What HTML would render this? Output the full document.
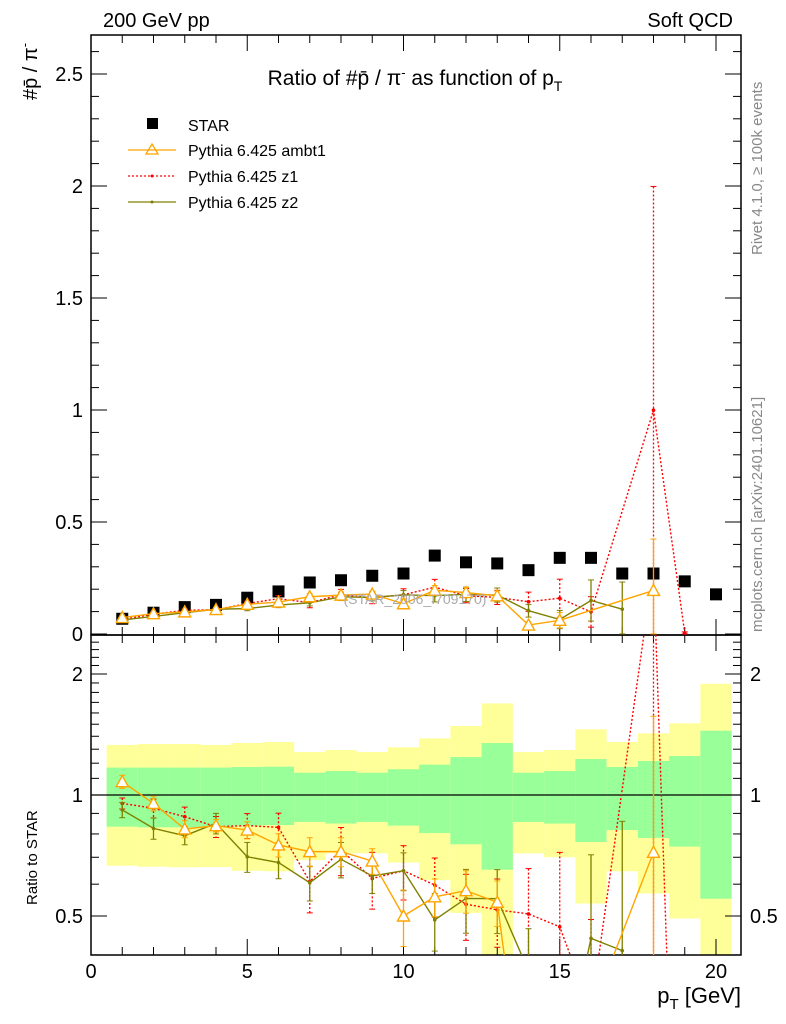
<!DOCTYPE html>
<html><head><meta charset="utf-8"><style>
html,body{margin:0;padding:0;background:#fff;width:786px;height:1024px;overflow:hidden;}
svg{display:block;font-family:"Liberation Sans",sans-serif;}
</style></head><body>
<svg id="chart" width="786" height="1024" xmlns="http://www.w3.org/2000/svg">
<g id="bands"></g>
<g id="axes"></g>
<g id="series"></g>
<text x="103" y="27" font-size="20">200 GeV pp</text>
<text x="733" y="27" font-size="20" text-anchor="end">Soft QCD</text>
<text x="415" y="85" font-size="21" text-anchor="middle">Ratio of #p̄ / π<tspan dy="-8" font-size="13">-</tspan><tspan dy="8"> as function of p</tspan><tspan dy="6" font-size="14">T</tspan></text>
<text x="415" y="604" font-size="14" fill="#aaa" text-anchor="middle">(STAR_2006_I709170)</text>
<text transform="translate(37,100) rotate(-90)" font-size="20">#p̄ / π<tspan dy="-8" font-size="13">-</tspan></text>
<text transform="translate(37,905) rotate(-90)" font-size="15">Ratio to STAR</text>
<text x="741" y="1003" font-size="22" text-anchor="end">p<tspan dy="6" font-size="15">T</tspan><tspan dy="-6"> [GeV]</tspan></text>
<text transform="translate(762,255) rotate(-90)" font-size="15" fill="#888">Rivet 4.1.0, ≥ 100k events</text>
<text transform="translate(762,632) rotate(-90)" font-size="15" fill="#888">mcplots.cern.ch [arXiv:2401.10621]</text>
<g>
<rect x="147" y="118" width="11" height="11" fill="#000"/>
<text x="188" y="131" font-size="16">STAR</text>
<line x1="128" y1="150" x2="176" y2="150" stroke="#ffa500" stroke-width="1.3"/>
<path d="M152,144 L158,154 L146,154 Z" fill="none" stroke="#ffa500" stroke-width="1.3"/>
<text x="188" y="156" font-size="16">Pythia 6.425 ambt1</text>
<line x1="128" y1="176" x2="176" y2="176" stroke="#ff0000" stroke-width="1.3" stroke-dasharray="2,2"/>
<circle cx="152" cy="176" r="1.5" fill="#ff0000"/>
<text x="188" y="182" font-size="16">Pythia 6.425 z1</text>
<line x1="128" y1="202" x2="176" y2="202" stroke="#808000" stroke-width="1.3"/>
<circle cx="152" cy="202" r="1.5" fill="#808000"/>
<text x="188" y="208" font-size="16">Pythia 6.425 z2</text>
</g>
</svg>
<script>
const pT=[1,2,3,4,5,6,7,8,9,10,11,12,13,14,15,16,17,18,19,20];
const starVals=[0.068,0.095,0.12,0.13,0.162,0.19,0.23,0.24,0.26,0.27,0.35,0.32,0.315,0.285,0.34,0.34,0.27,0.27,0.235,0.177];
const bandYellowUp=[1.332,1.339,1.339,1.332,1.347,1.355,1.279,1.294,1.279,1.314,1.383,1.485,1.69,1.279,1.294,1.457,1.355,1.424,1.508,1.891];
const bandGreenUp=[1.17,1.17,1.17,1.17,1.174,1.176,1.136,1.147,1.136,1.159,1.19,1.243,1.347,1.136,1.147,1.229,1.174,1.215,1.25,1.445];
const bandGreenDn=[0.834,0.831,0.831,0.831,0.839,0.842,0.857,0.849,0.857,0.839,0.804,0.754,0.652,0.857,0.849,0.764,0.818,0.782,0.744,0.552];
const bandYellowDn=[0.667,0.663,0.661,0.662,0.648,0.646,0.689,0.716,0.716,0.679,0.614,0.509,0.3,0.716,0.70,0.537,0.646,0.569,0.493,0.3];
const ambt1Ratio=[1.079,0.953,0.823,0.839,0.818,0.751,0.723,0.723,0.685,0.5,0.558,0.578,0.541,0.14,0.18,null,null,0.72,null,null];
const ambt1Err=[0.04,0.04,0.04,0.03,0.04,0.05,0.06,0.06,0.05,0.08,0.06,0.07,0.07,0.05,0.1,null,null,0.85,null,null];
const z1Ratio=[0.953,0.927,0.883,0.834,0.839,0.831,0.609,0.73,0.62,0.648,0.597,0.535,0.518,0.506,0.47,0.29,null,3.7,0.02,null];
const z1Err=[0.03,0.05,0.05,0.05,0.06,0.07,0.1,0.1,0.1,0.1,0.1,0.1,0.1,0.15,0.25,0.2,null,3.7,0.02,null];
const z2Ratio=[0.918,0.826,0.792,0.85,0.702,0.679,0.605,0.692,0.629,0.648,0.489,0.553,0.552,0.365,0.19,0.44,0.41,null,null,null];
const z2Err=[0.04,0.05,0.04,0.05,0.06,0.06,0.06,0.07,0.06,0.07,0.08,0.1,0.1,0.1,0.12,0.27,0.45,null,null,null];

const NS="http://www.w3.org/2000/svg";
const L=91,R=741,T=35,M=635,B=955;
const xS=v=>L+v*31.25;
const yTop=v=>634-224*v;
const yBot=r=>795-121*Math.log2(r);
const clipB=y=>Math.max(M,Math.min(B,y));
function mk(tag,attrs,parent){const e=document.createElementNS(NS,tag);for(const k in attrs)e.setAttribute(k,attrs[k]);parent.appendChild(e);return e;}
const bands=document.getElementById('bands'),axes=document.getElementById('axes'),ser=document.getElementById('series');

const defs=mk('defs',{},document.getElementById('chart'));
const c1=mk('clipPath',{id:'ctop'},defs);mk('rect',{x:L,y:T,width:R-L,height:M-T},c1);
const c2=mk('clipPath',{id:'cbot'},defs);mk('rect',{x:L,y:M,width:R-L,height:B-M},c2);

pT.forEach((p,i)=>{
  const x0=xS(p-0.5),x1=xS(p+0.5);
  const yu=clipB(yBot(bandYellowUp[i])),yd=clipB(yBot(bandYellowDn[i]));
  const y=mk('rect',{x:x0,y:yu,width:x1-x0,height:yd-yu,fill:'#ffff99'},bands);
  
  
  const gu=clipB(yBot(bandGreenUp[i])),gd=clipB(yBot(bandGreenDn[i]));
  const g=mk('rect',{x:x0,y:gu,width:x1-x0,height:gd-gu,fill:'#99ff99'},bands);
  
  
});
const one=mk('line',{x1:L,x2:R,y1:yBot(1),y2:yBot(1),stroke:'#000','stroke-width':1.2},bands);



[[T,M],[M,B]].forEach(([a,b])=>{
  const f=mk('rect',{x:L,y:a,width:R-L,height:b-a,fill:'none',stroke:'#000','stroke-width':1.5},axes);
  
  
});
for(let v=0;v<=20.8;v+=1){
  const x=xS(v),maj=(v%5===0),len=maj?16:8;
  mk('line',{x1:x,x2:x,y1:M,y2:M-len,stroke:'#000'},axes);
  mk('line',{x1:x,x2:x,y1:T,y2:T+len,stroke:'#000'},axes);
  mk('line',{x1:x,x2:x,y1:B,y2:B-len,stroke:'#000'},axes);
  mk('line',{x1:x,x2:x,y1:M,y2:M+len,stroke:'#000'},axes);
  if(maj){const t=mk('text',{x:x,y:978,'font-size':20,'text-anchor':'middle'},axes);t.textContent=String(v);
    
    }
}
const topLabels=['0','0.5','1','1.5','2','2.5'];
for(let k=0;k<=26;k++){
  const v=k/10,y=yTop(v),maj=(k%5===0),len=maj?16:8;
  mk('line',{x1:L,x2:L+len,y1:y,y2:y,stroke:'#000'},axes);
  mk('line',{x1:R,x2:R-len,y1:y,y2:y,stroke:'#000'},axes);
  if(maj){const t=mk('text',{x:83,y:y+7,'font-size':20,'text-anchor':'end'},axes);t.textContent=topLabels[k/5];
    
    }
}
const logTicks=[0.4,0.5,0.6,0.7,0.8,0.9,1,1.1,1.2,1.3,1.4,1.5,1.6,1.7,1.8,1.9,2,2.1,2.2,2.3,2.4];
logTicks.forEach(r=>{
  const y=yBot(r),maj=(r===0.5||r===1||r===2),len=maj?16:8;
  mk('line',{x1:L,x2:L+len,y1:y,y2:y,stroke:'#000'},axes);
  mk('line',{x1:R,x2:R-len,y1:y,y2:y,stroke:'#000'},axes);
  if(maj){
    const t=mk('text',{x:83,y:y+7,'font-size':20,'text-anchor':'end'},axes);t.textContent=String(r);
    
    
    const t2=mk('text',{x:750,y:y+7,'font-size':20},axes);t2.textContent=String(r);
    
    
  }
});

pT.forEach((p,i)=>{
  const s=mk('rect',{x:xS(p)-6,y:yTop(starVals[i])-6,width:12,height:12,fill:'#000'},ser);
  
  
});

function drawSeries(ratio,err,color,dash,marker,name){
  [['top','ctop'],['bot','cbot']].forEach(([pan,cp])=>{
    const g=mk('g',{'clip-path':'url(#'+cp+')'},ser);
    
    
    const fy=(r,i)=>pan==='top'?yTop(r*starVals[i]):yBot(Math.max(r,1e-3));
    let pts=[];
    ratio.forEach((r,i)=>{if(r!==null)pts.push([xS(pT[i]),fy(r,i)]);});
    const pl=mk('polyline',{points:pts.map(p=>p.join(',')).join(' '),fill:'none',stroke:color,'stroke-width':1.4},g);
    if(dash)pl.setAttribute('stroke-dasharray','2,2');
    
    
    ratio.forEach((r,i)=>{
      if(r===null)return;
      const x=xS(pT[i]),y=fy(r,i),e=err[i];
      const ya=fy(r+e,i),yb=fy(Math.max(r-e,1e-3),i);
      const eb=mk('line',{x1:x,x2:x,y1:ya,y2:yb,stroke:color,'stroke-width':1.3},g);
      if(dash)eb.setAttribute('stroke-dasharray','2,2');
      
      
      mk('line',{x1:x-3,x2:x+3,y1:ya,y2:ya,stroke:color},g);
      mk('line',{x1:x-3,x2:x+3,y1:yb,y2:yb,stroke:color},g);
      let m;
      if(marker==='tri'){m=mk('path',{d:`M${x},${y-6} L${x+6},${y+5} L${x-6},${y+5} Z`,fill:'#fff',stroke:color,'stroke-width':1.4},g);}
      else{m=mk('circle',{cx:x,cy:y,r:1.8,fill:color},g);}
      
      
    });
  });
}
drawSeries(z1Ratio,z1Err,'#ff0000',true,'dot','z1');
drawSeries(z2Ratio,z2Err,'#808000',false,'dot','z2');
drawSeries(ambt1Ratio,ambt1Err,'#ffa500',false,'tri','ambt1');
</script>
</body></html>
